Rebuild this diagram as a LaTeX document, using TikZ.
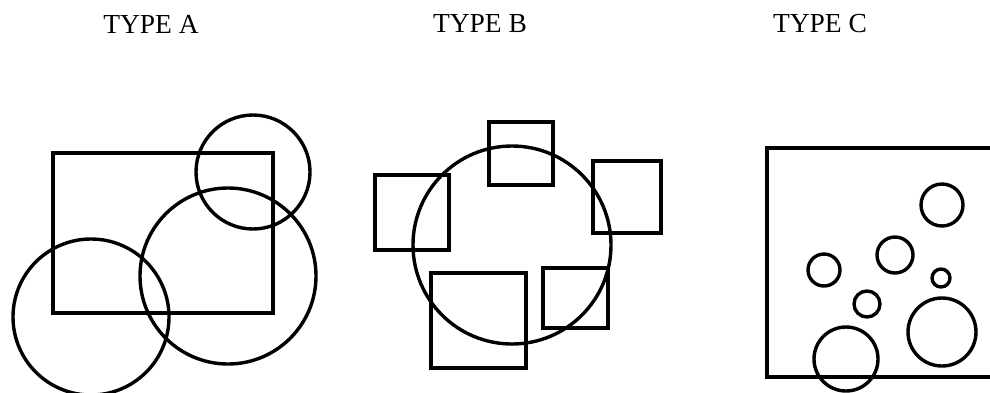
\documentclass[tikz,border=0pt]{standalone}
\usepackage{fontspec}
\setmainfont{Liberation Serif}
\begin{document}
\begin{tikzpicture}[x=1pt,y=-1pt,line width=3.4pt]
\tikzset{label/.style={font=\fontsize{27.5}{32}\selectfont, inner sep=0pt}}
\useasboundingbox (0,0) rectangle (990,392);
\clip (0,0) rectangle (990,392);
% labels
\node[label] (typea) at (151,24) {TYPE A};
\node[label] (typeb) at (480,24) {TYPE B};
\node[label] (typec) at (820,24) {TYPE C};
% type A
\draw (53,153)--(273,153)--(273,313)--(53,313)--cycle;
\draw (253,172) circle (57);
\draw (228,276) circle (88);
\draw (91,317) circle (78);
% type B
\draw (512,245) circle (99);
\draw (489,122) rectangle (553,185);
\draw (375,175) rectangle (449,250);
\draw (593,161) rectangle (661,233);
\draw (431,273) rectangle (526,368);
\draw (543,268) rectangle (608,328);
% type C
\draw (767,148) rectangle (1000,377);
\draw (942,205) circle (21);
\draw (895,255) circle (18);
\draw (824,270) circle (16);
\draw (941,278) circle (9);
\draw (867,304) circle (13);
\draw (942,332) circle (34);
\draw (846,359) circle (32);
\end{tikzpicture}
\end{document}
